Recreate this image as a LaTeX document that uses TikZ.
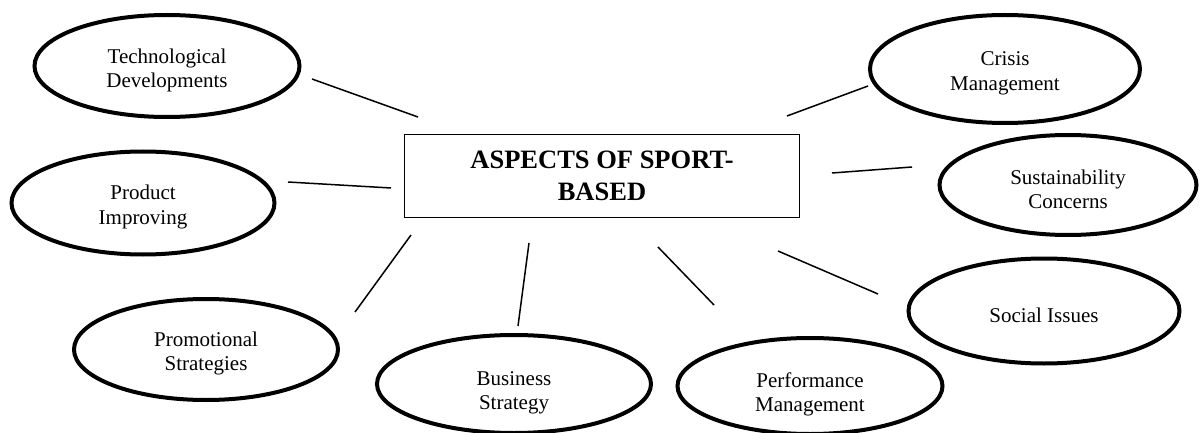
\documentclass[tikz,border=0pt]{standalone}
\usepackage{fontspec}
\setmainfont{Liberation Serif}
\usetikzlibrary{shapes.geometric}
\newcommand{\liftline}{\rule{0pt}{23pt}}
\newcommand{\liftlow}{\rule{0pt}{32pt}}
\begin{document}
\begin{tikzpicture}[x=1pt,y=-1pt,
  aspect/.style={ellipse,draw,line width=4pt,inner sep=0pt,align=center,
    font=\fontsize{21}{24.5}\selectfont},
  hubbox/.style={draw,line width=1.3pt,inner sep=0pt,align=center,
    font=\fontsize{26.5}{32}\selectfont\bfseries},
  link/.style={line width=1.5pt}]
\useasboundingbox (0,0) rectangle (1200,433);
\clip (0,0) rectangle (1200,433);

% central box
\node[hubbox,minimum width=395pt,minimum height=83pt] (hub) at (602,176)
  {ASPECTS OF SPORT-\\BASED};

% aspects
\node[aspect,minimum width=265pt,minimum height=102pt] (tech) at (167,66)
  {\liftline Technological\\Developments};
\node[aspect,minimum width=270pt,minimum height=108pt] (crisis) at (1005,69)
  {\liftline Crisis\\Management};
\node[aspect,minimum width=263pt,minimum height=103pt] (product) at (143,203)
  {\liftline Product\\Improving};
\node[aspect,minimum width=257pt,minimum height=100pt] (sustain) at (1068,185)
  {\liftline Sustainability\\Concerns};
\node[aspect,minimum width=264pt,minimum height=101pt] (promo) at (206,349.5)
  {\liftline Promotional\\Strategies};
\node[aspect,minimum width=274pt,minimum height=98pt] (business) at (514,384)
  {\liftlow Business\\Strategy};
\node[aspect,minimum width=265pt,minimum height=96pt] (perf) at (810,386)
  {\liftlow Performance\\Management};
\node[aspect,minimum width=271pt,minimum height=105pt] (social) at (1044,311)
  {\liftline Social Issues};

% connector end points (the lines float between box and ellipses)
\coordinate (hubTech) at (418,117);   \coordinate (techEnd) at (312,79);
\coordinate (hubCrisis) at (787,116); \coordinate (crisisEnd) at (868,86);
\coordinate (hubProd) at (391,188);   \coordinate (prodEnd) at (288,182);
\coordinate (hubSust) at (832,173);   \coordinate (sustEnd) at (912,167);
\coordinate (hubPromo) at (411,235);  \coordinate (promoEnd) at (355,312);
\coordinate (hubBus) at (529,243);    \coordinate (busEnd) at (518,326);
\coordinate (hubPerf) at (658,247);   \coordinate (perfEnd) at (714,305);
\coordinate (hubSoc) at (778,251);    \coordinate (socEnd) at (878,294);

\draw[link] (hubTech) -- (techEnd);
\draw[link] (hubCrisis) -- (crisisEnd);
\draw[link] (hubProd) -- (prodEnd);
\draw[link] (hubSust) -- (sustEnd);
\draw[link] (hubPromo) -- (promoEnd);
\draw[link] (hubBus) -- (busEnd);
\draw[link] (hubPerf) -- (perfEnd);
\draw[link] (hubSoc) -- (socEnd);
\end{tikzpicture}
\end{document}
